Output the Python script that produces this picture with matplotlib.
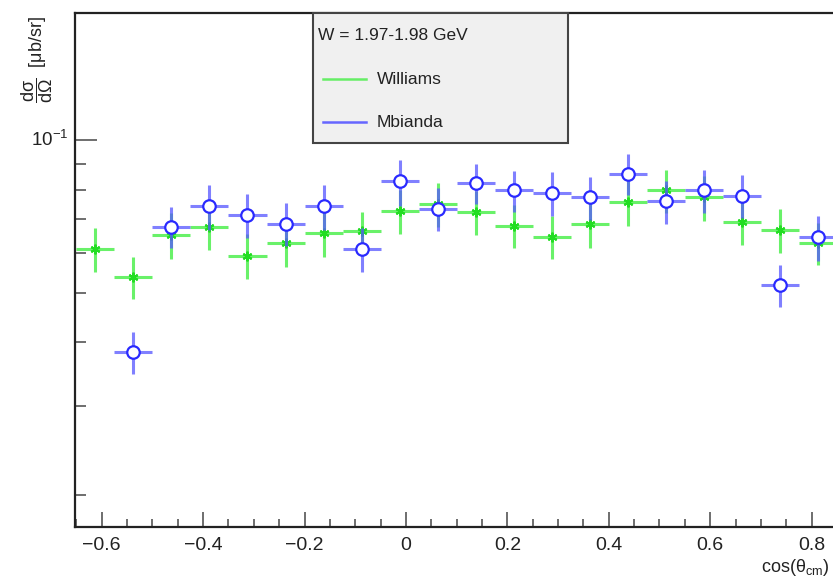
import numpy as np
import matplotlib
matplotlib.use('Agg')
import matplotlib.pyplot as plt
from matplotlib.ticker import LogLocator, MultipleLocator, NullFormatter

plt.rcParams['font.family'] = ['Liberation Sans', 'DejaVu Sans']
plt.rcParams['mathtext.fontset'] = 'custom'
plt.rcParams['mathtext.rm'] = 'Liberation Sans'
plt.rcParams['mathtext.it'] = 'Liberation Sans'

# %% data
williams_x = [-0.6125, -0.5375, -0.4625, -0.3875, -0.3125, -0.2375, -0.1625,
              -0.0875, -0.0125, 0.0625, 0.1375, 0.2125, 0.2875, 0.3625,
              0.4375, 0.5125, 0.5875, 0.6625, 0.7375, 0.8125]
williams_y = [0.0611, 0.0538, 0.0652, 0.0674, 0.0593, 0.0627, 0.0656,
              0.0663, 0.0727, 0.0749, 0.0723, 0.0679, 0.0646, 0.0684,
              0.0755, 0.0797, 0.0773, 0.0692, 0.0666, 0.0627]
williams_err = [0.0060, 0.0052, 0.0068, 0.0066, 0.0060, 0.0063, 0.0066,
                0.0061, 0.0073, 0.0075, 0.0073, 0.0066, 0.0063, 0.0069,
                0.0078, 0.0077, 0.0078, 0.0071, 0.0066, 0.0060]

mbianda_x = [-0.5375, -0.4625, -0.3875, -0.3125, -0.2375, -0.1625,
             -0.0875, -0.0125, 0.0625, 0.1375, 0.2125, 0.2875, 0.3625,
             0.4375, 0.5125, 0.5875, 0.6625, 0.7375, 0.8125]
mbianda_y = [0.0383, 0.0676, 0.0741, 0.0714, 0.0685, 0.0741,
             0.0612, 0.0830, 0.0734, 0.0824, 0.0797, 0.0788, 0.0773,
             0.0860, 0.0758, 0.0797, 0.0778, 0.0519, 0.0644]
mbianda_err = [0.0037, 0.0062, 0.0074, 0.0071, 0.0067, 0.0074,
               0.0061, 0.0086, 0.0072, 0.0076, 0.0075, 0.0077, 0.0075,
               0.0081, 0.0074, 0.0077, 0.0076, 0.0050, 0.0065]

bin_half = 0.0375
title = 'W = 1.97-1.98 GeV'

# %% plot
fig = plt.figure(figsize=(8.33, 5.8), dpi=100)
ax = fig.add_axes([75/833, 52.7/580, 790/833, 514/580])

green = '#44ee44'
blue = '#5555ff'

ax.errorbar(williams_x, williams_y, xerr=bin_half, yerr=williams_err,
            fmt='none', ecolor=green, elinewidth=2.2, alpha=0.8, zorder=2)
ax.plot(williams_x, williams_y, ls='none', marker=(6, 2, 0), ms=7,
        mew=1.5, color='#22dd22', zorder=3)

ax.errorbar(mbianda_x, mbianda_y, xerr=bin_half, yerr=mbianda_err,
            fmt='none', ecolor=blue, elinewidth=2.2, alpha=0.75, zorder=4)
ax.plot(mbianda_x, mbianda_y, ls='none', marker='o', ms=9,
        mfc='white', mec='#2a2aff', mew=1.6, zorder=5)

ax.set_yscale('log')
ax.set_ylim(0.01728, 0.178)
ax.set_xlim(-0.6527, 0.9054)

ax.xaxis.set_major_locator(MultipleLocator(0.2))
ax.xaxis.set_minor_locator(MultipleLocator(0.05))
ax.yaxis.set_major_locator(LogLocator(base=10))
ax.yaxis.set_minor_locator(LogLocator(base=10, subs=np.arange(2, 10)))
ax.yaxis.set_minor_formatter(NullFormatter())
ax.set_xticklabels([])
ax.set_yticklabels([])

ax.tick_params(axis='x', which='major', direction='in', length=11, width=1.2,
               color='#555555', labelbottom=False)
ax.tick_params(axis='x', which='minor', direction='in', length=6, width=1.2,
               color='#555555')
ax.tick_params(axis='y', which='major', direction='in', length=16, width=1.2,
               color='#555555', labelleft=False)
ax.tick_params(axis='y', which='minor', direction='in', length=8, width=1.2,
               color='#555555')

for side in ['left', 'bottom', 'top', 'right']:
    ax.spines[side].set_linewidth(1.6)
    ax.spines[side].set_color('#222222')

# tick labels as text so minus signs / positions look like ROOT
for v in np.arange(-0.6, 0.81, 0.2):
    lab = '0' if abs(v) < 1e-9 else ('%.1f' % v).replace('-', '\u2212')
    ax.text(v, -0.018, lab, transform=ax.get_xaxis_transform(),
            ha='center', va='top', fontsize=14, color='#222222')
ax.text(-0.008, 0.1, r'$10^{-1}$', transform=ax.get_yaxis_transform(),
        ha='right', va='center', fontsize=13.5, color='#222222')

fig.text(829/833, 1 - 567/580, r'cos($\theta_{\rm cm}$)',
         ha='right', va='center', fontsize=13, color='#222222')

fig.text(37/833, 1 - 60/580, r'$\dfrac{d\sigma}{d\Omega}$  [$\mu$b/sr]',
         rotation=90, ha='center', va='center', fontsize=13, color='#222222')

# legend box drawn like the ROOT TLegend
bx0, bx1 = (313 - 75) / 790, (568 - 75) / 790
by0, by1 = (527.3 - 143.3) / 514, 1.0
ax.add_patch(plt.Rectangle((bx0, by0), bx1 - bx0, by1 - by0,
                           transform=ax.transAxes, facecolor='#f0f0f0',
                           edgecolor='#444444', lw=1.5, zorder=10, clip_on=False))

def ay(py):
    return (527.3 - py) / 514

def axx(px):
    return (px - 75) / 790

ax.text(axx(318), ay(35), title, transform=ax.transAxes, ha='left',
        va='center', fontsize=12.5, color='#222222', zorder=11)
ax.plot([axx(323), axx(366)], [ay(79), ay(79)], transform=ax.transAxes,
        color='#66ee66', lw=1.8, zorder=11, clip_on=False)
ax.text(axx(377), ay(79), 'Williams', transform=ax.transAxes, ha='left',
        va='center', fontsize=12.5, color='#222222', zorder=11)
ax.plot([axx(323), axx(366)], [ay(122), ay(122)], transform=ax.transAxes,
        color='#6666ff', lw=1.8, zorder=11, clip_on=False)
ax.text(axx(377), ay(122), 'Mbianda', transform=ax.transAxes, ha='left',
        va='center', fontsize=12.5, color='#222222', zorder=11)

fig.savefig('out.png', dpi=100)
